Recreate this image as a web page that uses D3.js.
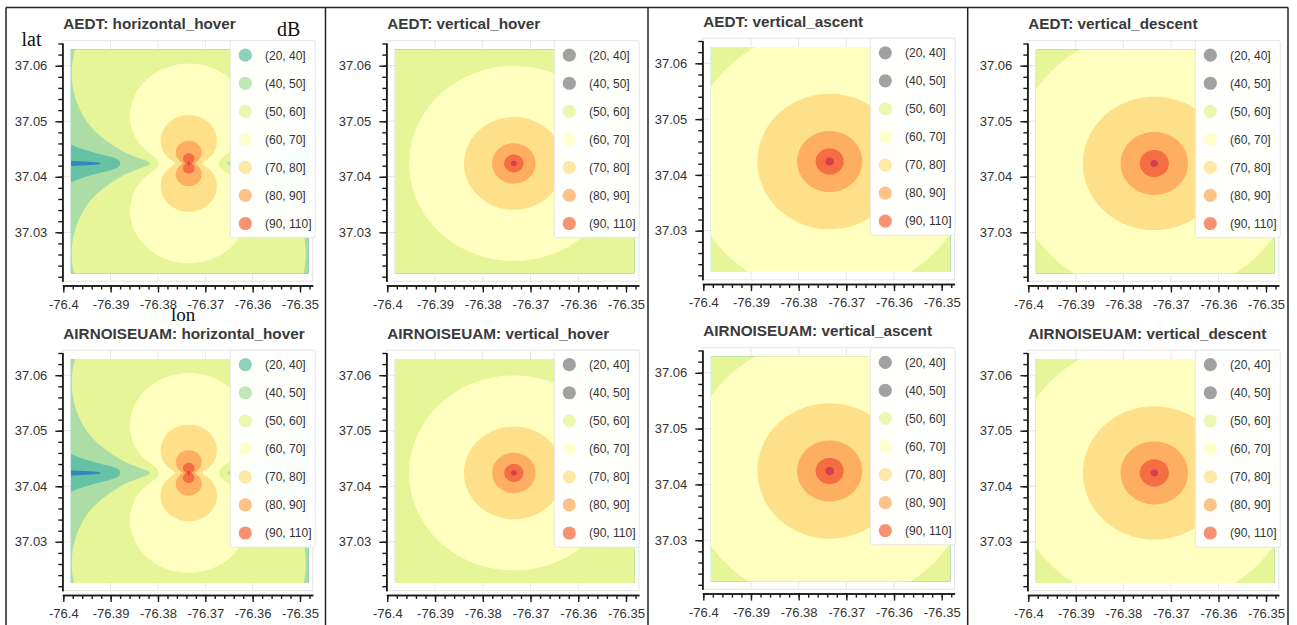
<!DOCTYPE html>
<html><head><meta charset="utf-8">
<script src="https://cdn.jsdelivr.net/npm/d3@7"></script>
<style>
html,body{margin:0;padding:0;background:#fff;}
svg{display:block;}
</style></head><body>
<svg id="chart" width="1297" height="625"></svg>
<script>
// ---------------- data ----------------
const modelNames = ["AEDT", "AIRNOISEUAM"];
const operationNames = ["horizontal_hover", "vertical_hover", "vertical_ascent", "vertical_descent"];
const bandEdges = [20, 40, 50, 60, 70, 80, 90, 110];
const bandLabels = ["(20, 40]", "(40, 50]", "(50, 60]", "(60, 70]", "(70, 80]", "(80, 90]", "(90, 110]"];
const bandColors = ["#66c2a5", "#abdda4", "#e6f598", "#ffffbf", "#fee08b", "#fdae61", "#f46d43"];
const belowColor = "#3288bd";
const aboveColor = "#d53e4f";
const absentColor = "#8a8a8a";

const sourceLon = -76.3735, sourceLat = 37.0424;
const gridLonExtent = [-76.3984, -76.3482];
const gridLatExtent = [37.0226, 37.0629];

// contour level -> distance from source (m)
const ringLevels = [110, 90, 80, 70, 60, 50];
const horizontalHoverRadii = [40, 200, 450, 965, 1996, 3860];   // along the lobe (north-south) axis
const verticalHoverRadii   = [55, 178, 404, 927, 1948, 4100];
const verticalAscentRadii  = [80, 260, 607, 1347, 2665, 5300];
const verticalDescentRadii = [70, 270, 630, 1333, 2665, 5300];
const operationRadii = [horizontalHoverRadii, verticalHoverRadii, verticalAscentRadii, verticalDescentRadii];
const operationDipole = [true, false, false, false];
// horizontal hover: level reached along the east-west axis (wedge tips), and lobe exponent
const hoverAxisLevels = [60, 50, 40, 20];
const hoverAxisRadii  = [570, 727, 1290, 1650];
const dipoleExponent = 2.35;

const xTickValues = [-76.4, -76.39, -76.38, -76.37, -76.36, -76.35];
const xTickLabels = ["-76.4", "-76.39", "-76.38", "-76.37", "-76.36", "-76.35"];
const yTickValues = [37.03, 37.04, 37.05, 37.06];
const yTickLabels = ["37.03", "37.04", "37.05", "37.06"];
const xAxisExtent = [-76.4002, -76.3473];
const yAxisExtent = [37.0212, 37.0641];
const plotLatTop = 37.0645;

// ---------------- layout ----------------
const colX = [[63.3, 300.0], [387.3, 626.0], [703.3, 941.7], [1028.3, 1266.0]];  // px of -76.4, -76.35
const colY = [[232.3, 65.7], [232.3, 65.7], [230.7, 63.3], [232.3, 65.7]];       // px of 37.03, 37.06
const rowShift = [0, 309.5];
const titleBaseline = [29.3, 29.3, 26.7, 29.3];
const FONT = "'Liberation Sans', Arial, Helvetica, sans-serif";

const svg = d3.select("#chart");
const mLat = 111000;
const mLon = 111320 * Math.cos(sourceLat * Math.PI / 180);

modelNames.forEach((model, row) => {
  operationNames.forEach((op, col) => {
    const g = svg.append("g");
    const x = d3.scaleLinear().domain([xTickValues[0], xTickValues[5]]).range(colX[col]);
    const y = d3.scaleLinear().domain([yTickValues[0], yTickValues[3]]).range(colY[col].map(v => v + rowShift[row]));

    // plot background + grid
    const px0 = x(xAxisExtent[0]), px1 = x(xAxisExtent[1]);
    const py0 = y(plotLatTop), py1 = y(yAxisExtent[0]);
    g.append("rect").attr("x", px0).attr("y", py0).attr("width", px1 - px0).attr("height", py1 - py0)
      .attr("fill", "#fff").attr("stroke", "#e4e4e4").attr("stroke-width", 1);
    g.selectAll(".vgrid").data(xTickValues.slice(1, 5)).join("line")
      .attr("x1", d => x(d)).attr("x2", d => x(d)).attr("y1", py0).attr("y2", py1)
      .attr("stroke", "#e6e6e6").attr("stroke-width", 1);
    g.selectAll(".hgrid").data(yTickValues).join("line")
      .attr("x1", px0).attr("x2", px1).attr("y1", d => y(d)).attr("y2", d => y(d))
      .attr("stroke", "#e6e6e6").attr("stroke-width", 1);

    // noise field on a grid
    const gx0 = x(gridLonExtent[0]), gx1 = x(gridLonExtent[1]);
    const gy0 = y(gridLatExtent[1]), gy1 = y(gridLatExtent[0]);
    const nx = Math.round(gx1 - gx0), ny = Math.round(gy1 - gy0);
    const radii = operationRadii[col];
    const lref = d3.scaleLinear().domain(radii.map(Math.log10)).range(ringLevels);
    const laxis = d3.scaleLinear().domain(hoverAxisRadii.map(Math.log10)).range(hoverAxisLevels);
    const logAxisMin = Math.log10(hoverAxisRadii[0]);
    const values = new Array(nx * ny);
    for (let j = 0; j < ny; j++) {
      const lat = gridLatExtent[1] - (j + 0.5) / ny * (gridLatExtent[1] - gridLatExtent[0]);
      const dy = (lat - sourceLat) * mLat;
      for (let i = 0; i < nx; i++) {
        const lon = gridLonExtent[0] + (i + 0.5) / nx * (gridLonExtent[1] - gridLonExtent[0]);
        const dx = (lon - sourceLon) * mLon;
        const r = Math.max(1, Math.hypot(dx, dy));
        const lr = Math.log10(r);
        let L = lref(lr);
        if (operationDipole[col]) {
          const s = Math.abs(dy) / r;
          const la = Math.max(lr, logAxisMin);
          const floorDb = Math.min(0, laxis(la) - lref(la));
          L += 10 * Math.log10(Math.pow(s, dipoleExponent) + Math.pow(10, floorDb / 10));
        }
        values[j * nx + i] = L;
      }
    }
    const thresholds = [-1e6].concat(bandEdges);
    const fills = [belowColor].concat(bandColors, [aboveColor]);
    const contours = d3.contours().size([nx, ny]).thresholds(thresholds)(values);
    const proj = d3.geoTransform({
      point: function (cx, cy) {
        const lon = gridLonExtent[0] + cx / nx * (gridLonExtent[1] - gridLonExtent[0]);
        const lat = gridLatExtent[1] - cy / ny * (gridLatExtent[1] - gridLatExtent[0]);
        this.stream.point(x(lon), y(lat));
      }
    });
    const path = d3.geoPath(proj);
    g.append("g").selectAll("path").data(contours).join("path")
      .attr("d", path).attr("fill", (d, k) => fills[k]).attr("stroke", "none");

    // axes
    const xa = x.copy().domain(xAxisExtent).range(xAxisExtent.map(x));
    const ya = y.copy().domain(yAxisExtent).range(yAxisExtent.map(y));
    const xSpineY = y(yAxisExtent[0]) + 4.3;
    const ySpineX = x(xAxisExtent[0]);
    const xMinor = d3.range(-76.4, -76.3472, 0.002);
    const yMinor = d3.range(37.022, 37.0645, 0.002);

    g.append("g").attr("transform", `translate(0,${xSpineY})`)
      .call(d3.axisBottom(xa).tickValues(xTickValues).tickFormat((d, k) => xTickLabels[k])
        .tickSize(7).tickSizeOuter(0).tickPadding(7));
    g.append("g").attr("transform", `translate(0,${xSpineY})`)
      .call(d3.axisBottom(xa).tickValues(xMinor).tickFormat("").tickSize(4).tickSizeOuter(0));
    g.append("g").attr("transform", `translate(${ySpineX},0)`)
      .call(d3.axisLeft(ya).tickValues(yTickValues).tickFormat((d, k) => yTickLabels[k])
        .tickSize(7).tickSizeOuter(0).tickPadding(8));
    g.append("g").attr("transform", `translate(${ySpineX},0)`)
      .call(d3.axisLeft(ya).tickValues(yMinor).tickFormat("").tickSize(4).tickSizeOuter(0));
    g.selectAll(".domain").attr("stroke", "#1a1a1a").attr("stroke-width", 1.5);
    g.selectAll(".tick line").attr("stroke", "#1a1a1a").attr("stroke-width", 1.4);
    g.selectAll(".tick text").attr("font-family", FONT).attr("font-size", 13).attr("fill", "#333");

    // title
    g.append("text").attr("x", colX[col][0]).attr("y", titleBaseline[col] + rowShift[row])
      .attr("font-family", FONT).attr("font-weight", "bold").attr("font-size", 15.3)
      .attr("fill", "#3a3a3a").text(`${model}: ${op}`);

    // legend
    const lx = colX[col][0], ly = colY[col][1] + rowShift[row];
    g.append("rect").attr("x", lx + 167).attr("y", ly - 25).attr("width", 85).attr("height", 197)
      .attr("rx", 2).attr("fill", "#fff").attr("fill-opacity", 0.96).attr("stroke", "#e6e6e6");
    bandLabels.forEach((lab, k) => {
      const lo = bandEdges[k], hi = bandEdges[k + 1];
      const present = values.some(v => v > lo && v <= hi);
      const cy = ly - 10.5 + k * 28.05;
      g.append("circle").attr("cx", lx + 182).attr("cy", cy).attr("r", 6.6)
        .attr("fill", present ? bandColors[k] : absentColor)
        .attr("fill-opacity", present ? 0.75 : 0.8);
      g.append("text").attr("x", lx + 201.7).attr("y", cy + 4.3)
        .attr("font-family", FONT).attr("font-size", 12).attr("fill", "#333").text(lab);
    });
  });
});

// frame lines of the composite figure
const frame = svg.append("g").attr("stroke", "#222").attr("stroke-width", 1.5);
frame.append("line").attr("x1", 6).attr("x2", 1288).attr("y1", 7.5).attr("y2", 7.5);
[6, 325.5, 648, 967.7, 1288].forEach(xv => {
  frame.append("line").attr("x1", xv).attr("x2", xv).attr("y1", 7.5).attr("y2", 625);
});

// axis annotations
const serif = "'Liberation Serif', 'Times New Roman', serif";
svg.append("text").attr("x", 21.5).attr("y", 46).attr("font-family", serif).attr("font-size", 20).attr("fill", "#111").text("lat");
svg.append("text").attr("x", 277).attr("y", 36).attr("font-family", serif).attr("font-size", 20).attr("fill", "#111").text("dB");
svg.append("text").attr("x", 171).attr("y", 321).attr("font-family", serif).attr("font-size", 19).attr("fill", "#111").text("lon");
</script>
</body></html>
